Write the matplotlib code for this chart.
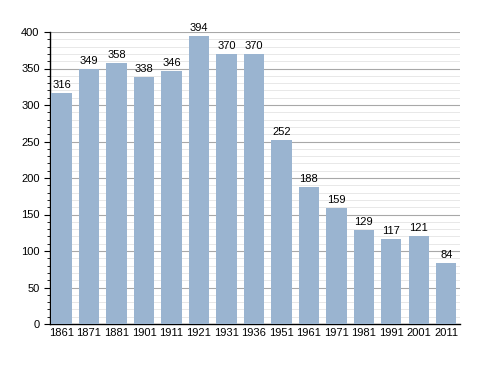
import matplotlib
matplotlib.use("Agg")
import matplotlib.pyplot as plt
from matplotlib.ticker import MultipleLocator

plt.rcParams['font.family'] = ['Liberation Sans', 'DejaVu Sans']

years = ["1861","1871","1881","1901","1911","1921","1931","1936","1951","1961","1971","1981","1991","2001","2011"]
population = [316,349,358,338,346,394,370,370,252,188,159,129,117,121,84]

fig = plt.figure(figsize=(4.88,3.73), dpi=100)
ax = fig.add_axes([50/488, 1-324/373, 410/488, 292/373])
x = list(range(len(years)))
bars = ax.bar(x, population, width=0.74, color="#9ab4d0", zorder=3)
for xi, v in zip(x, population):
    ax.text(xi, v+4, str(v), ha="center", va="bottom", fontsize=8, zorder=4)
ax.set_xlim(-0.42, 14.5)
ax.set_ylim(0, 400)
ax.set_xticks(x)
ax.set_xticklabels(years, fontsize=8)
ax.yaxis.set_major_locator(MultipleLocator(50))
ax.yaxis.set_minor_locator(MultipleLocator(10))
ax.tick_params(axis="y", labelsize=8, length=4, width=0.8)
ax.tick_params(axis="y", which="minor", length=2, width=0.6)
ax.tick_params(axis="x", length=0, pad=3)
ax.grid(axis="y", which="major", color="#a8a8a8", linewidth=0.8, zorder=0)
ax.grid(axis="y", which="minor", color="#e4e4e4", linewidth=0.6, zorder=0)
for s in ["top","right"]:
    ax.spines[s].set_visible(False)
ax.spines["left"].set_linewidth(1)
ax.spines["bottom"].set_linewidth(1)
fig.savefig("out.png", dpi=100)
